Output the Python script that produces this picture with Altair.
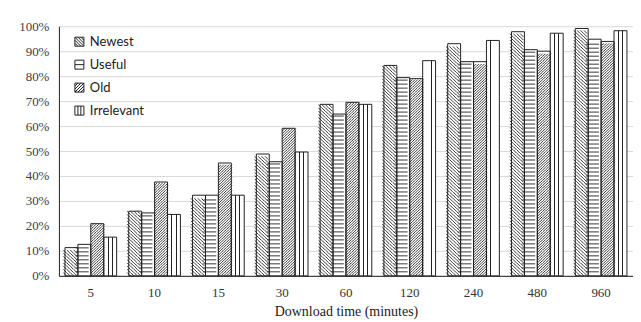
import altair as alt
import pandas as pd

categories = ["5", "10", "15", "30", "60", "120", "240", "480", "960"]
series_names = ["Newest", "Useful", "Old", "Irrelevant"]
newest = [0.113, 0.259, 0.323, 0.488, 0.687, 0.843, 0.930, 0.978, 0.991]
useful = [0.126, 0.252, 0.323, 0.457, 0.648, 0.794, 0.858, 0.906, 0.948]
old = [0.209, 0.376, 0.452, 0.591, 0.695, 0.790, 0.858, 0.900, 0.939]
irrelevant = [0.155, 0.246, 0.323, 0.496, 0.687, 0.862, 0.943, 0.972, 0.982]
y_ticks = [0, 0.1, 0.2, 0.3, 0.4, 0.5, 0.6, 0.7, 0.8, 0.9, 1.0]

rows = []
for name, vals in zip(series_names, [newest, useful, old, irrelevant]):
    for cat, v in zip(categories, vals):
        rows.append({"time": cat, "series": name, "value": v})
df = pd.DataFrame(rows)

W, H = 575, 250
PAD_IN = 0.19
band = W / (len(categories) - PAD_IN + PAD_IN) * (1 - PAD_IN)
bar_w = band / 4
INK = "#222222"

x_enc = alt.X(
    "time:N",
    sort=categories,
    scale=alt.Scale(domain=categories, paddingInner=PAD_IN, paddingOuter=PAD_IN / 2),
    title="Download time (minutes)",
    axis=alt.Axis(labelAngle=0, grid=False, domainColor=INK, ticks=False, tickSize=0,
                  labelPadding=11, labelFont="Liberation Serif", labelFontSize=13,
                  labelColor="#333333", titleFont="Liberation Serif", titleFontSize=14,
                  titleFontWeight="normal", titleColor=INK, titlePadding=5),
)
y_axis = alt.Axis(values=y_ticks, format=".0%", grid=True, gridColor="#d9d9d9",
                  domainColor=INK, ticks=False, tickSize=0, labelPadding=10,
                  labelFont="Liberation Serif", labelFontSize=13, labelColor="#404040")
y_scale = alt.Scale(domain=[0, 1])


def yq(field):
    return alt.Y(f"{field}:Q", scale=y_scale, axis=y_axis, title=None)


def xoff(field, domain):
    return alt.XOffset(f"{field}:N", scale=alt.Scale(domain=domain, paddingInner=0, paddingOuter=0))


base = alt.Chart(df)

bars = base.mark_bar(fill="white", strokeWidth=0).encode(
    x=x_enc, xOffset=xoff("series", series_names), y=yq("value"))

grad = alt.LinearGradient(
    gradient="linear", x1=0, x2=1, y1=0, y2=0,
    stops=[alt.GradientStop(offset=0, color="white"),
           alt.GradientStop(offset=0.30, color="white"),
           alt.GradientStop(offset=0.30, color=INK),
           alt.GradientStop(offset=0.37, color=INK),
           alt.GradientStop(offset=0.37, color="white"),
           alt.GradientStop(offset=0.63, color="white"),
           alt.GradientStop(offset=0.63, color=INK),
           alt.GradientStop(offset=0.70, color=INK),
           alt.GradientStop(offset=0.70, color="white"),
           alt.GradientStop(offset=1, color="white")])
bars_irr = base.transform_filter(alt.datum.series == "Irrelevant").mark_bar(
    fill=grad, strokeWidth=0).encode(
    x=x_enc, xOffset=xoff("series", series_names), y=yq("value"))


def hatch(name, ncols, step_px, path, seg_h_px, top_gap_px=0.0):
    col_w = bar_w / ncols
    step = step_px / H
    half = seg_h_px / 2 / H
    start = half if half > 0 else step
    stop_gap = half if half > 0 else top_gap_px / H
    domain = [f"{s}_{c}" for s in series_names for c in range(ncols)]
    return base.transform_filter(alt.datum.series == name).transform_calculate(
        lv=f"sequence({start}, datum.value - {stop_gap}, {step})",
        cols=f"sequence(0, {ncols})",
    ).transform_flatten(["lv"]).transform_flatten(["cols"]).transform_calculate(
        sub="datum.series + '_' + datum.cols"
    ).mark_point(shape=path, size=col_w ** 2, filled=False, stroke=INK,
                 strokeWidth=0.9, opacity=1).encode(
        x=x_enc, xOffset=xoff("sub", domain), y=yq("lv"))


col_n = bar_w / 4
col_o = bar_w / 5
h_newest = hatch("Newest", 4, col_n, "M-1,-1L1,1", col_n)
h_old = hatch("Old", 5, col_o, "M-1,1L1,-1", col_o)
h_useful = hatch("Useful", 1, 4.0, "M-1,0L1,0", 0, top_gap_px=1.5)

outline = base.mark_bar(fillOpacity=0, stroke=INK, strokeWidth=1).encode(
    x=x_enc, xOffset=xoff("series", series_names), y=yq("value"))

legend_paths = [
    "M-1,-1H1V1H-1Z M-1,-0.33L0.33,1 M-0.33,-1L1,0.33 M-1,0.33L-0.33,1 M0.33,-1L1,-0.33 M-1,-1L1,1",
    "M-1,-1H1V1H-1Z M-1,0H1",
    "M-1,-1H1V1H-1Z M-1,0.33L0.33,-1 M-0.33,1L1,-0.33 M-1,-0.33L-0.33,-1 M0.33,1L1,0.33 M-1,1L1,-1 M-1,0.67L-0.67,1",
    "M-1,-1H1V1H-1Z M-0.33,-1V1 M0.33,-1V1",
]
legend_layer = base.mark_point(opacity=0, filled=False).encode(
    x=x_enc, y=yq("value"),
    shape=alt.Shape("series:N", scale=alt.Scale(domain=series_names, range=legend_paths),
                    legend=alt.Legend(title=None, orient="none", legendX=14, legendY=9,
                                      labelFont="Lato", labelFontSize=13, labelColor=INK,
                                      symbolSize=81, symbolStrokeColor=INK,
                                      symbolStrokeWidth=1, symbolFillColor="white",
                                      symbolOpacity=1, rowPadding=9, labelOffset=4,
                                      padding=0)),
)

chart = alt.layer(bars, bars_irr, h_newest, h_old, h_useful, outline, legend_layer).resolve_scale(
    xOffset="independent"
).properties(
    width=W, height=H,
    padding={"left": 51, "top": 18, "right": 0, "bottom": 44},
    autosize=alt.AutoSizeParams(type="none"),
).configure_view(strokeWidth=0)

chart.save("out.html", embed_options={"renderer": "svg", "actions": False})
